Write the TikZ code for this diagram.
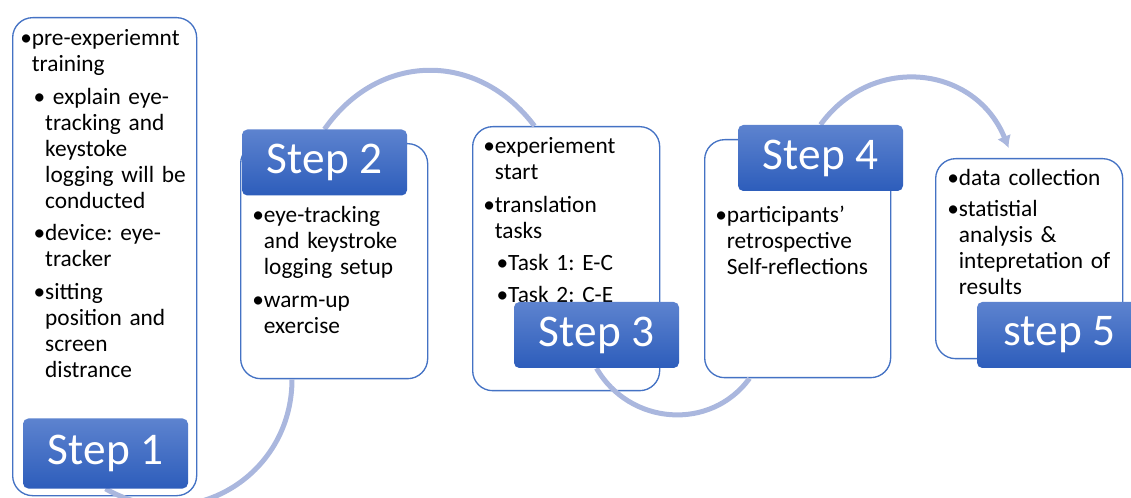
\documentclass[tikz,border=0pt]{standalone}
\usepackage{fontspec}
\setmainfont{Carlito}
\setsansfont{Carlito}
\usetikzlibrary{shapes,arrows.meta,calc}
\definecolor{boxblue}{RGB}{68,114,196}
\definecolor{labtop}{RGB}{93,131,207}
\definecolor{labbot}{RGB}{45,93,187}
\definecolor{flowblue}{RGB}{170,183,222}
\tikzset{every picture/.style={/utils/exec={\sffamily}}}
\frenchspacing
\pgfdeclarelayer{front}
\pgfsetlayers{main,front}
% one bullet item, optional indent
\newcommand{\itm}[2][0pt]{\noindent\hspace*{#1}\textbullet\begin{tabular}[t]{@{}l@{}}#2\end{tabular}\par\vspace{4pt}}

\begin{document}
\begin{tikzpicture}[x=0.75pt, y=0.75pt, >=latex,
   box/.style={draw=boxblue, line width=1pt, fill=white, rounded corners=15pt, anchor=north west, inner sep=0pt},
   steplab/.style={rounded corners=4pt, top color=labtop, bottom color=labbot, text=white, inner sep=0pt,
      minimum width=123.75pt, minimum height=49.5pt, font=\fontsize{34}{40}\selectfont},
   txt/.style={anchor=north west, inner sep=0pt, text width=135pt, font=\fontsize{17.5}{19.5}\selectfont},
   flow/.style={draw=flowblue, line width=3.75pt}]

    \useasboundingbox (0,0) rectangle (1131,-498);

    % Place boxes
    \node [box, minimum width=138pt, minimum height=358.5pt] (box1) at (12,-17) {};
    \node [box, minimum width=140.25pt, minimum height=176.25pt] (box2) at (240,-143) {};
    \node [box, minimum width=140.25pt, minimum height=198pt] (box3) at (472,-126) {};
    \node [box, minimum width=139.5pt, minimum height=178.5pt] (box4) at (704,-139) {};
    \node [box, minimum width=140.25pt, minimum height=150pt] (box5) at (935,-158) {};

    % Step labels
    \begin{pgfonlayer}{front}
    \node [steplab, minimum height=52.5pt] (lab1) at (105.5,-453.5) {Step 1};
    \node [steplab] (lab2) at (324.5,-162.5) {Step 2};
    \node [steplab] (lab3) at (596.5,-335) {Step 3};
    \node [steplab] (lab4) at (820.5,-158) {Step 4};
    \node [steplab] (lab5) at (1059.5,-335) {step 5};
    \end{pgfonlayer}

    % Draw arcs
    \draw [flow] (lab1.south) to[out=-30, in=-90, looseness=1.15] ($(box2.south west)+(52,0)$);
    \draw [flow] (lab2.north) to[out=55, in=127, looseness=1.15] ($(box3.north west)+(62.5,0)$);
    \draw [flow] (lab3.south) to[out=-60, in=-126, looseness=1.1] ($(box4.south west)+(45.5,0)$);
    \draw [flow, -{Latex[length=9pt,width=11pt]}] (lab4.north) to[out=54, in=112, looseness=1.2] ($(box5.north)+(-20.5,10)$);

    % Texts
    \node [txt] (txt1) at ($(box1.north west)+(8,-10)$) {%
      \itm{pre-experiemnt\\training}%
      \itm[10pt]{\ explain eye-\\tracking and\\keystoke\\logging will be\\conducted}%
      \itm[10pt]{device: eye-\\tracker}%
      \itm[10pt]{sitting\\position and\\screen\\distrance}};
    \node [txt] (txt2) at ($(box2.north west)+(12,-61)$) {%
      \itm{eye-tracking\\and keystroke\\logging setup}%
      \itm{warm-up\\exercise}};
    \node [txt] (txt3) at ($(box3.north west)+(11,-9)$) {%
      \itm{experiement\\start}%
      \itm{translation\\tasks}%
      \itm[10pt]{Task 1: E-C}%
      \itm[10pt]{Task 2: C-E}};
    \node [txt] (txt4) at ($(box4.north west)+(11,-65)$) {%
      \itm{participants’\\retrospective\\Self-reflections}};
    \node [txt] (txt5) at ($(box5.north west)+(12,-9)$) {%
      \itm{data collection}%
      \itm{statistial\\analysis \&\\intepretation of\\results}};
\end{tikzpicture}
\end{document}
